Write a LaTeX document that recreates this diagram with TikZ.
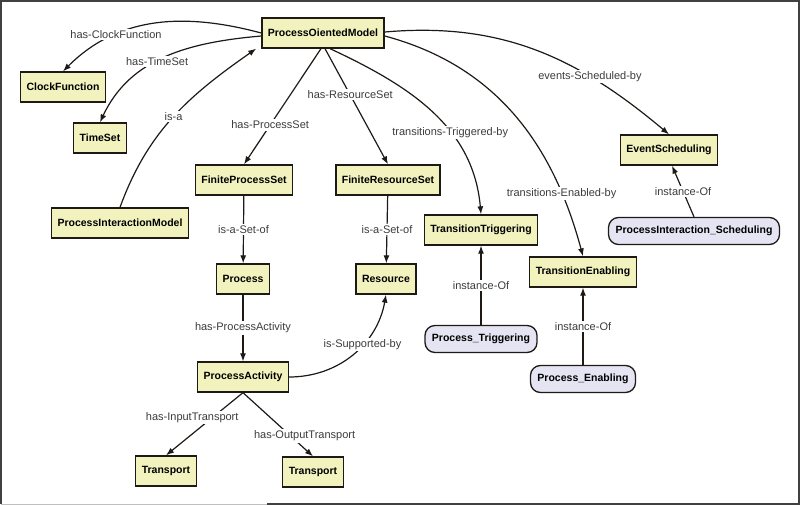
\documentclass[tikz,border=0pt]{standalone}
\usepackage{fontspec}
\setmainfont{Liberation Sans}
\usetikzlibrary{arrows.meta}
\definecolor{clsfill}{RGB}{242,242,190}
\definecolor{instfill}{RGB}{228,228,242}
\definecolor{edgec}{RGB}{30,25,20}
\definecolor{lblc}{RGB}{60,60,60}
\tikzset{
    cls/.style={draw=edgec, line width=1.3pt, fill=clsfill, minimum height=30pt,
        inner xsep=6pt, font=\fontsize{10.5}{11}\selectfont\bfseries},
    inst/.style={draw=edgec, line width=1.3pt, fill=instfill, rounded corners=10pt,
        minimum height=27pt, inner xsep=7pt, font=\fontsize{10.5}{11}\selectfont\bfseries},
    lbl/.style={fill=white, text=lblc, inner sep=1.5pt, font=\fontsize{11}{12}\selectfont},
    rel/.style={draw=edgec, line width=1.2pt, -{Latex[length=8pt,width=6pt]}}
}
\begin{document}
\begin{tikzpicture}[x=1pt, y=-1pt]
    \useasboundingbox (0,0) rectangle (800,505);
    % Frame
    \draw[line width=2pt, black!75] (267,504) -- (799,504) -- (799,1) -- (1,1) -- (1,504);
    \draw[line width=1pt, black!25] (1,504) -- (267,504);

    % Classes
    \node[cls] (pom) at (323,33) {ProcessOientedModel};
    \node[cls] (clock) at (63,87) {ClockFunction};
    \node[cls] (timeset) at (100,138) {TimeSet};
    \node[cls] (pim) at (120,223) {ProcessInteractionModel};
    \node[cls] (fps) at (244,180) {FiniteProcessSet};
    \node[cls] (frs) at (388,180) {FiniteResourceSet};
    \node[cls] (proc) at (243,279) {Process};
    \node[cls] (res) at (386,279) {Resource};
    \node[cls] (pact) at (243,377) {ProcessActivity};
    \node[cls] (tin) at (166,471) {Transport};
    \node[cls] (tout) at (313,472) {Transport};
    \node[cls] (ttrig) at (481,230) {TransitionTriggering};
    \node[cls] (tenab) at (583,272) {TransitionEnabling};
    \node[cls] (evsched) at (669,150) {EventScheduling};

    % Instances
    \node[inst] (ptrig) at (481,339) {Process\_Triggering};
    \node[inst] (penab) at (583,379) {Process\_Enabling};
    \node[inst] (pisched) at (694,231) {ProcessInteraction\_Scheduling};

    % Relations from the model
    \draw[rel] (pom.west) to[out=165,in=45] node[lbl, pos=0.7] {has-ClockFunction} (clock.north);
    \draw[rel] ([yshift=-3pt]pom.west) to[out=185,in=65] node[lbl, pos=0.55] {has-TimeSet} (timeset.north);
    \draw[rel] (pim.north) to[out=70,in=215] node[lbl, pos=0.5] {is-a} ([xshift=-5pt]pom.south west);
    \draw[rel] ([xshift=-2pt]pom.south) -- node[lbl, pos=0.66] {has-ProcessSet} (fps.north);
    \draw[rel] ([xshift=2pt]pom.south) -- node[lbl, pos=0.4] {has-ResourceSet} (frs.north);
    \draw[rel] ([xshift=7pt]pom.south) to[out=-25,in=95] node[lbl, pos=0.62] {transitions-Triggered-by} (ttrig.north);
    \draw[rel] ([yshift=-3pt]pom.east) to[out=-15,in=105] node[lbl, pos=0.8] {transitions-Enabled-by} (tenab.north);
    \draw[rel] ([yshift=1pt]pom.east) to[out=5,in=140] node[lbl, pos=0.7] {events-Scheduled-by} (evsched.north);

    % Sets and activities
    \draw[rel] (fps) -- node[lbl] {is-a-Set-of} (proc);
    \draw[rel] (frs) -- node[lbl] {is-a-Set-of} (res);
    \draw[rel] (proc) -- node[lbl] {has-ProcessActivity} (pact);
    \draw[rel] (pact.east) to[out=0,in=-100] node[lbl, pos=0.6] {is-Supported-by} (res.south);
    \draw[rel] (pact.south) -- node[lbl, pos=0.4, xshift=-20pt] {has-InputTransport} (tin.north);
    \draw[rel] (pact.south) -- node[lbl, pos=0.68, xshift=14pt] {has-OutputTransport} (tout.north);

    % Instances
    \draw[rel] (ptrig) -- node[lbl] {instance-Of} (ttrig);
    \draw[rel] (penab) -- node[lbl] {instance-Of} (tenab);
    \draw[rel] (pisched.north) -- node[lbl] {instance-Of} ([xshift=3pt]evsched.south);
\end{tikzpicture}
\end{document}
